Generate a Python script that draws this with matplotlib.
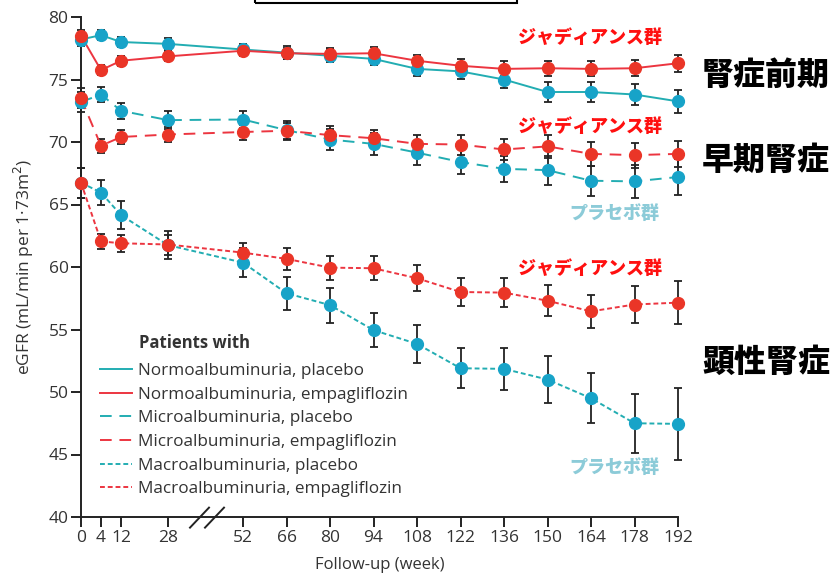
import numpy as np
import matplotlib
matplotlib.use('Agg')
import matplotlib.pyplot as plt
from matplotlib.lines import Line2D
from matplotlib.patches import Rectangle

plt.rcParams['font.family'] = ['Open Sans', 'DejaVu Sans']

weeks = [0, 4, 12, 28, 52, 66, 80, 94, 108, 122, 136, 150, 164, 178, 192]

normo_pla = [78.2, 78.55, 78.0, 77.85, 77.4, 77.15, 76.9, 76.65, 75.85, 75.65, 75.0, 74.0, 74.0, 73.8, 73.25]
normo_pla_err = [0.5, 0.4, 0.4, 0.45, 0.45, 0.5, 0.5, 0.5, 0.55, 0.6, 0.65, 0.8, 0.8, 0.85, 0.95]
normo_emp = [78.5, 75.75, 76.5, 76.85, 77.3, 77.1, 77.05, 77.1, 76.5, 76.1, 75.85, 75.9, 75.85, 75.9, 76.3]
normo_emp_err = [0.5, 0.4, 0.4, 0.4, 0.45, 0.45, 0.5, 0.5, 0.5, 0.55, 0.6, 0.6, 0.6, 0.65, 0.7]

micro_pla = [73.2, 73.8, 72.5, 71.75, 71.8, 70.95, 70.2, 69.85, 69.15, 68.4, 67.85, 67.75, 66.9, 66.85, 67.2]
micro_pla_err = [0.8, 0.6, 0.65, 0.7, 0.7, 0.75, 0.85, 0.85, 0.95, 1.0, 1.05, 1.15, 1.2, 1.3, 1.45]
micro_emp = [73.5, 69.7, 70.4, 70.6, 70.8, 70.9, 70.55, 70.3, 69.85, 69.8, 69.4, 69.65, 69.05, 68.95, 69.05]
micro_emp_err = [0.8, 0.55, 0.55, 0.6, 0.6, 0.65, 0.7, 0.7, 0.75, 0.8, 0.85, 0.9, 0.95, 1.0, 1.05]

macro_pla = [66.75, 65.95, 64.15, 61.75, 60.35, 57.9, 56.95, 54.95, 53.85, 51.9, 51.85, 51.0, 49.5, 47.5, 47.45]
macro_pla_err = [1.2, 1.0, 1.1, 1.1, 1.15, 1.3, 1.4, 1.35, 1.5, 1.6, 1.65, 1.85, 2.0, 2.35, 2.85]
macro_emp = [66.75, 62.05, 61.9, 61.8, 61.15, 60.65, 59.95, 59.9, 59.1, 58.0, 57.95, 57.3, 56.45, 57.0, 57.15]
macro_emp_err = [1.2, 0.6, 0.7, 0.8, 0.8, 0.9, 0.95, 0.95, 1.05, 1.1, 1.15, 1.25, 1.35, 1.5, 1.7]

labels = ['Normoalbuminuria, placebo', 'Normoalbuminuria, empagliflozin',
          'Microalbuminuria, placebo', 'Microalbuminuria, empagliflozin',
          'Macroalbuminuria, placebo', 'Macroalbuminuria, empagliflozin']

# broken time axis: weeks -> horizontal position
tick_pos = [0, 20, 40, 87, 162, 205.5, 249, 292.5, 336, 379.5, 423, 466.5, 510, 553.5, 597]


def xmap(w):
    return np.interp(w, weeks, tick_pos)


line_cyan = '#22adb2'
mark_cyan = '#17a3c8'
line_red = '#ec3540'
mark_red = '#ea3527'

fig = plt.figure(figsize=(8.32, 5.78), dpi=100)
ax = fig.add_axes([81 / 832, 1 - 517 / 578, (678 - 81) / 832, (517 - 17) / 578])

series = [
    (normo_pla, normo_pla_err, line_cyan, mark_cyan, '-'),
    (normo_emp, normo_emp_err, line_red, mark_red, '-'),
    (micro_pla, micro_pla_err, line_cyan, mark_cyan, (0, (6, 4))),
    (micro_emp, micro_emp_err, line_red, mark_red, (0, (6, 4))),
    (macro_pla, macro_pla_err, line_cyan, mark_cyan, (0, (2.5, 1.5))),
    (macro_emp, macro_emp_err, line_red, mark_red, (0, (2.5, 1.5))),
]

x = xmap(weeks)
handles = []
for vals, err, lc, mc, ls in series:
    ax.errorbar(x, vals, yerr=err, fmt='none', ecolor='#222222', elinewidth=1.3,
                capsize=3, capthick=1.3, zorder=2, clip_on=False)
    ax.plot(x, vals, color=lc, linestyle=ls, linewidth=1.4, zorder=3, clip_on=False)
    ax.plot(x, vals, 'o', color=mc, markersize=8.5, markeredgecolor=mc, zorder=4, clip_on=False)
    handles.append(Line2D([0], [0], color=lc, linestyle=ls, linewidth=1.4))

ax.set_xlim(0, 597)
ax.set_ylim(40, 80)
ax.set_xticks(tick_pos)
ax.set_xticklabels([str(w) for w in weeks])
ax.set_yticks([40, 45, 50, 55, 60, 65, 70, 75, 80])
ax.spines['top'].set_visible(False)
ax.spines['right'].set_visible(False)
for s in ['left', 'bottom']:
    ax.spines[s].set_linewidth(1.4)
    ax.spines[s].set_color('#222222')
ax.tick_params(direction='out', length=7, width=1.4, color='#222222',
               labelsize=12.5, labelcolor='#333333', pad=2)
ax.set_xlabel('Follow-up (week)', fontsize=12, color='#333333', labelpad=8)
ax.set_ylabel('eGFR (mL/min per 1·73m$^2$)', fontsize=12.5, color='#333333', labelpad=9)

# axis break marks
for dx in [0, 15]:
    ax.plot([109 + dx, 128 + dx], [39.15, 40.75],
            color='#222222', linewidth=1.4, clip_on=False)

leg = ax.legend(handles, labels, loc='upper left',
                bbox_to_anchor=((100 - 81) / 597, (517 - 363) / 500), frameon=False,
                fontsize=12.3, handlelength=1.85, handletextpad=0.4, labelspacing=0.45,
                borderpad=0, borderaxespad=0, labelcolor='#333333')
fig.text(139 / 832, 1 - 343 / 578, 'Patients with', fontsize=12, fontweight='bold',
         color='#333333', ha='left', va='center')

# annotations
jp = ['Noto Sans CJK JP', 'DejaVu Sans']
for py in [37, 126, 268]:
    fig.text(590 / 832, 1 - py / 578, 'ジャディアンス群', family=jp, fontsize=13,
             fontweight='black', color='#ff1010', ha='center', va='center')
for py in [213, 467]:
    fig.text(614 / 832, 1 - py / 578, 'プラセボ群', family=jp, fontsize=13,
             fontweight='black', color='#8ccbd8', ha='center', va='center')
for py, t in [(75, '腎症前期'), (160, '早期腎症'), (362, '顕性腎症')]:
    fig.text(766 / 832, 1 - py / 578, t, family=jp, fontsize=23,
             fontweight='black', color='black', ha='center', va='center')

fig.patches.append(Rectangle((255 / 832, 1 - 3 / 578), (517 - 255) / 832, 0.05,
                             transform=fig.transFigure, fill=False,
                             edgecolor='black', linewidth=1.5))

fig.savefig('out.png', dpi=100)
